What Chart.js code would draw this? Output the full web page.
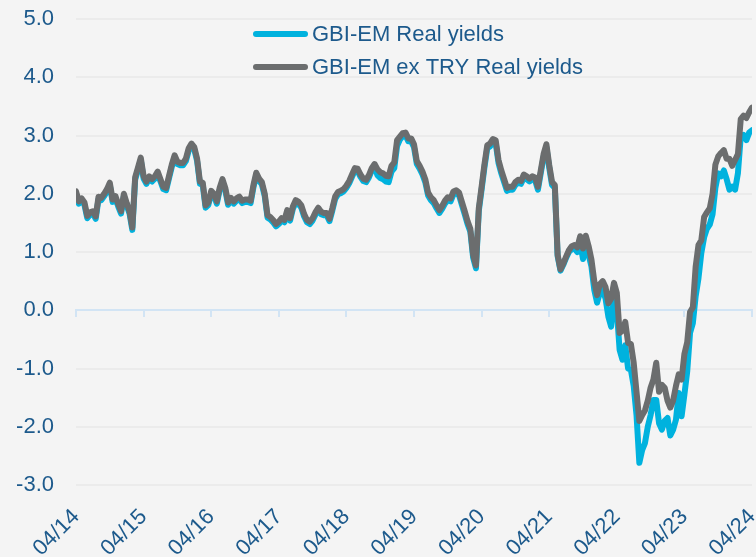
<!DOCTYPE html>
<html>
<head>
<meta charset="utf-8">
<script src="https://cdn.jsdelivr.net/npm/chart.js@4.4.1/dist/chart.umd.min.js"></script>
<style>
  html, body { margin: 0; padding: 0; background: #f4f4f4; }
  #wrap { width: 756px; height: 557px; position: relative; }
</style>
</head>
<body>
<div id="wrap"><canvas id="chart"></canvas></div>
<script>

// half-monthly observations, 04/2014 .. 04/2024
var periodsPerYear = 24;
var tickLabels = ['04/14','04/15','04/16','04/17','04/18','04/19','04/20','04/21','04/22','04/23','04/24'];
var seriesNames = ['GBI-EM Real yields', 'GBI-EM ex TRY Real yields'];

var realYields = [
 2.00,1.83,1.88,1.81,1.58,1.64,1.66,1.57,1.91,1.89,1.96,2.04,2.15,1.86,1.92,1.78,1.66,1.96,1.80,1.66,
 1.38,2.24,2.41,2.58,2.26,2.17,2.26,2.21,2.26,2.34,2.21,2.08,2.06,2.26,2.46,2.62,2.51,2.49,2.49,2.56,
 2.74,2.82,2.76,2.56,2.17,2.15,1.76,1.81,2.01,1.96,1.83,2.06,2.21,2.06,1.81,1.89,1.83,1.88,1.91,1.84,
 1.86,1.86,1.84,2.11,2.32,2.22,2.16,1.96,1.59,1.56,1.51,1.44,1.48,1.54,1.51,1.68,1.54,1.74,1.85,1.82,
 1.76,1.61,1.51,1.48,1.54,1.64,1.72,1.65,1.63,1.63,1.53,1.71,1.91,1.99,2.01,2.04,2.10,2.18,2.29,2.40,
 2.39,2.29,2.22,2.20,2.28,2.40,2.47,2.32,2.27,2.25,2.21,2.20,2.38,2.44,2.82,2.93,2.99,3.00,2.90,2.90,
 2.80,2.51,2.43,2.33,2.20,1.97,1.89,1.84,1.75,1.67,1.74,1.83,1.89,1.87,1.99,2.01,1.97,1.81,1.65,1.48,
 1.35,0.90,0.72,1.70,2.07,2.45,2.78,2.81,2.89,2.87,2.53,2.35,2.20,2.05,2.07,2.07,2.15,2.19,2.17,2.28,
 2.25,2.21,2.25,2.23,2.07,2.35,2.63,2.80,2.45,2.15,2.10,0.93,0.68,0.78,0.90,1.00,1.05,1.06,1.00,1.15,
 0.88,1.10,0.95,0.75,0.35,0.13,0.30,0.35,0.20,-0.11,-0.28,0.25,0.00,-0.68,-0.85,-0.60,-1.00,-1.02,-1.30,-1.80,
 -2.62,-2.40,-2.28,-2.00,-1.80,-1.54,-1.54,-1.94,-2.05,-1.90,-1.85,-2.15,-2.05,-1.88,-1.42,-1.82,-1.45,-1.05,-0.39,-0.22,
 0.24,0.55,0.98,1.25,1.40,1.47,1.65,2.10,2.35,2.30,2.40,2.25,2.07,2.12,2.07,2.35,2.98,3.01,2.92,3.05,
 3.09
];

var exTryYields = [
 2.04,1.87,1.92,1.85,1.62,1.68,1.70,1.61,1.95,1.93,2.00,2.08,2.19,1.90,1.96,1.82,1.70,2.00,1.84,1.70,
 1.42,2.28,2.45,2.62,2.30,2.21,2.30,2.25,2.30,2.38,2.25,2.12,2.10,2.30,2.50,2.66,2.55,2.53,2.53,2.60,
 2.78,2.86,2.80,2.60,2.21,2.19,1.80,1.85,2.05,2.00,1.87,2.10,2.25,2.10,1.85,1.93,1.87,1.92,1.95,1.88,
 1.90,1.90,1.88,2.15,2.36,2.26,2.20,2.00,1.63,1.60,1.55,1.48,1.52,1.58,1.55,1.72,1.58,1.78,1.89,1.86,
 1.80,1.65,1.55,1.52,1.58,1.68,1.76,1.69,1.67,1.67,1.57,1.75,1.95,2.03,2.05,2.08,2.14,2.22,2.33,2.44,
 2.43,2.33,2.26,2.24,2.32,2.44,2.51,2.42,2.37,2.35,2.31,2.30,2.48,2.54,2.92,2.98,3.04,3.05,2.95,2.95,
 2.85,2.56,2.48,2.38,2.25,2.02,1.94,1.89,1.80,1.72,1.79,1.88,1.94,1.92,2.04,2.06,2.02,1.86,1.70,1.53,
 1.40,0.95,0.77,1.75,2.12,2.50,2.83,2.86,2.94,2.92,2.58,2.40,2.25,2.10,2.12,2.12,2.20,2.24,2.22,2.33,
 2.30,2.26,2.30,2.28,2.12,2.40,2.68,2.85,2.50,2.20,2.15,0.95,0.70,0.80,0.92,1.03,1.10,1.12,1.08,1.27,
 1.06,1.28,1.10,0.87,0.50,0.26,0.45,0.50,0.40,0.12,0.20,0.47,0.30,-0.39,-0.35,-0.20,-0.56,-0.58,-0.90,-1.40,
 -1.90,-1.80,-1.72,-1.55,-1.33,-1.19,-0.90,-1.40,-1.28,-1.33,-1.55,-1.67,-1.55,-1.30,-1.10,-1.19,-0.75,-0.55,-0.03,0.05,
 0.75,1.12,1.20,1.60,1.68,1.75,2.00,2.50,2.64,2.70,2.75,2.60,2.60,2.48,2.58,2.68,3.28,3.34,3.30,3.40,
 3.48
];

var textColor = '#1d5a8c';
var fontFamily = "'Liberation Sans', Arial, sans-serif";

function toPoints(values) {
    return values.map(function(v, i) { return {x: i / periodsPerYear, y: v}; });
}

var legendPlugin = {
    id: 'stackedLegend',
    afterDraw: function(chart, args, opts) {
        var ctx = chart.ctx;
        ctx.save();
        chart.data.datasets.forEach(function(ds, i) {
            var y = opts.top + i * opts.rowHeight;
            ctx.strokeStyle = ds.borderColor;
            ctx.lineWidth = 6;
            ctx.lineCap = 'round';
            ctx.beginPath();
            ctx.moveTo(opts.left, y);
            ctx.lineTo(opts.left + opts.swatch, y);
            ctx.stroke();
            ctx.fillStyle = textColor;
            ctx.font = '22px ' + fontFamily;
            ctx.textBaseline = 'middle';
            ctx.fillText(ds.label, opts.left + opts.swatch + 7, y + 1);
        });
        ctx.restore();
    }
};

new Chart(document.getElementById('chart'), {
    type: 'line',
    data: {
        datasets: [
            {label: seriesNames[0], data: toPoints(realYields), borderColor: '#00b2de', order: 1},
            {label: seriesNames[1], data: toPoints(exTryYields), borderColor: '#6b6d6e', order: 0}
        ]
    },
    options: {
        responsive: true,
        maintainAspectRatio: false,
        devicePixelRatio: 1,
        animation: false,
        layout: {padding: {top: 19, right: 4, left: 0, bottom: 0}},
        elements: {
            line: {borderWidth: 6, tension: 0, borderJoinStyle: 'round', borderCapStyle: 'round', fill: false},
            point: {radius: 0, hoverRadius: 0}
        },
        plugins: {
            legend: {display: false},
            tooltip: {enabled: false},
            stackedLegend: {left: 256, top: 34, rowHeight: 33, swatch: 49}
        },
        scales: {
            x: {
                type: 'linear', position: 'bottom', min: 0, max: 10,
                grid: {display: false, drawTicks: false},
                border: {display: false},
                ticks: {
                    stepSize: 1, autoSkip: false, minRotation: 45, maxRotation: 45, padding: 19,
                    color: textColor, font: {family: fontFamily, size: 22},
                    callback: function(v) { return tickLabels[v]; }
                },
                afterFit: function(s) { s.height = 72; s.paddingLeft = 0; s.paddingRight = 0; }
            },
            zero: {
                type: 'linear', axis: 'x', position: {y: 0}, min: 0, max: 10,
                ticks: {display: false, stepSize: 1},
                grid: {drawOnChartArea: false, drawTicks: true, tickLength: 6, color: '#d2e4f4', lineWidth: 2},
                border: {color: '#d2e4f4', width: 2}
            },
            y: {
                min: -3, max: 5,
                border: {display: false},
                grid: {color: '#ebebeb', lineWidth: 2, drawTicks: false},
                ticks: {
                    stepSize: 1, padding: 22, color: textColor, font: {family: fontFamily, size: 22},
                    callback: function(v) { return v.toFixed(1); }
                },
                afterFit: function(s) { s.width = 76; s.paddingTop = 0; s.paddingBottom = 0; }
            }
        }
    },
    plugins: [legendPlugin]
});
</script>
</body>
</html>
